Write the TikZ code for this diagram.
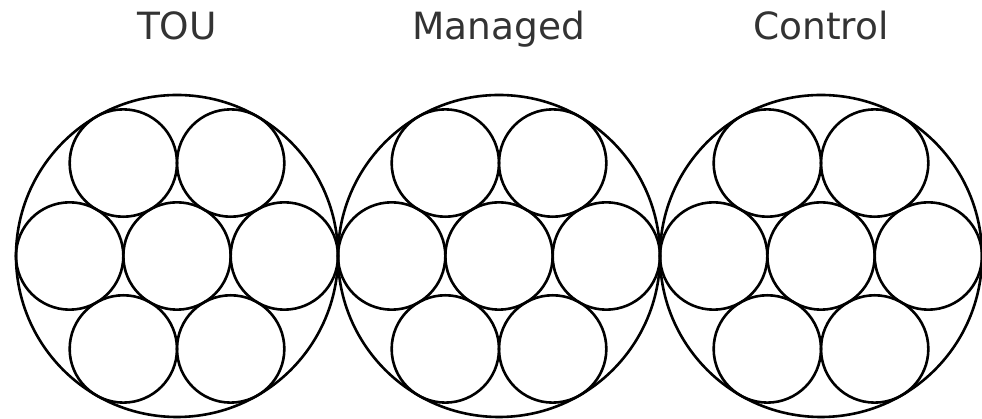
\documentclass[tikz,border=0pt]{standalone}
\usepackage{fontspec}
\setmainfont{DejaVu Sans}
\usetikzlibrary{calc}
\definecolor{titlegray}{HTML}{333333}
\begin{document}
\begin{tikzpicture}[x=1pt,y=1pt,
  ring/.style={draw=black,line width=2.6pt},
  title/.style={anchor=base,text=titlegray,font=\fontsize{37.5}{40}\selectfont,inner sep=0pt}]
\useasboundingbox (0,0) rectangle (982,419);
\def\R{161}
\def\r{53.667}
\foreach \cx/\lab/\nm in {177/TOU/a,499/Managed/b,821/Control/c}{
  \node[title] (t\nm) at (\cx,379) {\lab};
  \node[ring,circle,minimum size=2*\R pt,inner sep=0pt] (big\nm) at (\cx,163) {};
  \node[ring,circle,minimum size=2*\r pt,inner sep=0pt] (sc\nm) at (\cx,163) {};
  \foreach \k in {0,...,5}{
    \node[ring,circle,minimum size=2*\r pt,inner sep=0pt] (s\k\nm) at ($(\cx,163)+(\k*60:2*\r)$) {};
  }
}
\end{tikzpicture}
\end{document}
